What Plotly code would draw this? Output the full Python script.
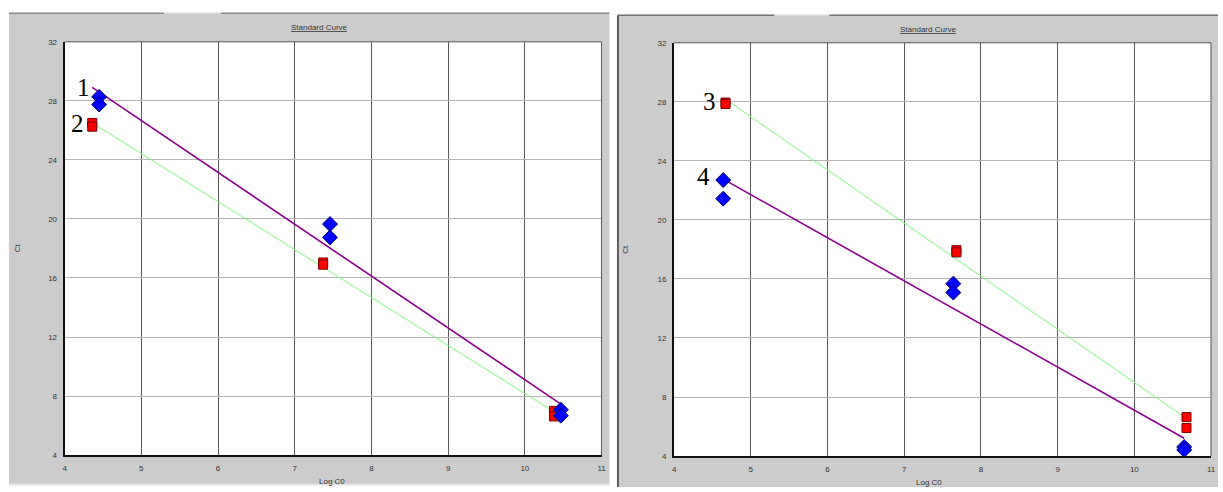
import numpy as np
import plotly.graph_objects as go

W, H = 1223, 492

# ---- data: Ct vs Log C0, two standard-curve runs ----
x_ticks = [4, 5, 6, 7, 8, 9, 10, 11]
ct_ticks = [4, 8, 12, 16, 20, 24, 28, 32]

left_blue_x = [4.45, 4.45, 7.46, 7.46, 10.47, 10.47]
left_blue_ct = [28.27, 27.75, 19.65, 18.75, 7.07, 6.67]
left_red_x = [4.36, 4.36, 7.37, 7.37, 10.38, 10.38]
left_red_ct = [26.5, 26.25, 17.05, 16.9, 7.0, 6.62]

right_red_x = [4.67, 4.67, 7.68, 7.68, 10.68, 10.68]
right_red_ct = [27.95, 27.85, 17.95, 17.8, 6.64, 5.9]
right_blue_x = [4.64, 4.64, 7.64, 7.64, 10.65, 10.65]
right_blue_ct = [22.7, 21.44, 15.68, 15.08, 4.62, 4.42]

series_labels = ["1", "2", "3", "4"]


def px(x):
    return x / W


def py(y):
    return 1 - y / H


fig = go.Figure()

BLUE = dict(symbol="diamond", size=11.5, color="#0000ff",
            line=dict(color="#00006a", width=1))
RED = dict(symbol="square", size=9, color="#ff0000",
           line=dict(color="#7a0000", width=1))
PURPLE = dict(color="#8b008b", width=1.6)
GREEN = dict(color="#7cfc7c", width=1)


def fit_line(xs, ys, x_lo, x_hi, line, xa, ya):
    slope, icpt = np.polyfit(xs, ys, 1)
    xl = np.array([x_lo, x_hi])
    fig.add_trace(go.Scatter(x=xl, y=slope * xl + icpt, mode="lines",
                             line=line, xaxis=xa, yaxis=ya,
                             showlegend=False, hoverinfo="skip"))


def points(xs, ys, marker, xa, ya):
    fig.add_trace(go.Scatter(x=xs, y=ys, mode="markers", marker=marker,
                             xaxis=xa, yaxis=ya, showlegend=False))


# left panel
lo = min(left_blue_x + left_red_x)
hi = max(left_blue_x + left_red_x)
fit_line(left_red_x, left_red_ct, lo, max(left_red_x), GREEN, "x", "y")
fit_line(left_blue_x, left_blue_ct, lo, hi, PURPLE, "x", "y")
points(left_red_x, left_red_ct, RED, "x", "y")
points(left_blue_x, left_blue_ct, BLUE, "x", "y")

# right panel
lo2 = min(right_blue_x + right_red_x)
fit_line(right_red_x, right_red_ct, min(right_red_x), max(right_red_x), GREEN, "x2", "y2")
fit_line(right_blue_x, right_blue_ct, lo2, max(right_blue_x), PURPLE, "x2", "y2")
points(right_red_x, right_red_ct, RED, "x2", "y2")
points(right_blue_x, right_blue_ct, BLUE, "x2", "y2")

tick_font = dict(family="Liberation Sans, Arial, sans-serif", size=8, color="#333")


def xaxis(dom, anchor):
    return dict(domain=dom, anchor=anchor, range=[4, 11], tickvals=x_ticks,
                showgrid=True, gridcolor="#5a5a5a", gridwidth=1,
                zeroline=False, showline=True, linecolor="#111", linewidth=2,
                ticks="outside", ticklen=4, tickcolor="rgba(0,0,0,0)",
                tickfont=tick_font, fixedrange=True)


def yaxis(dom, anchor):
    return dict(domain=dom, anchor=anchor, range=[4, 32], tickvals=ct_ticks,
                showgrid=True, gridcolor="#b4b4b4", gridwidth=1,
                zeroline=False, showline=True, linecolor="#111", linewidth=2,
                ticks="outside", ticklen=4, tickcolor="rgba(0,0,0,0)",
                tickfont=tick_font, fixedrange=True)


L = (63, 603, 38.5, 459.5)
R = (676, 1216, 39.5, 460.5)

fig.update_layout(
    width=W, height=H, margin=dict(l=0, r=0, t=0, b=0),
    paper_bgcolor="white", plot_bgcolor="white", showlegend=False,
    xaxis=xaxis([px(L[0]), px(L[1])], "y"),
    yaxis=yaxis([py(L[3]), py(L[2])], "x"),
    xaxis2=xaxis([px(R[0]), px(R[1])], "y2"),
    yaxis2=yaxis([py(R[3]), py(R[2])], "x2"),
)

shapes = []
# grey window panels
for x0, x1, y0, y1 in [(7, 611, 10, 490), (619, 1223, 12, 492)]:
    shapes.append(dict(type="rect", xref="paper", yref="paper", layer="below",
                       x0=px(x0), x1=px(x1), y0=py(y1), y1=py(y0),
                       fillcolor="#cccccc", line=dict(width=0)))
# white plotting areas on top of the grey panels
for xr, yr in [("x", "y"), ("x2", "y2")]:
    shapes.append(dict(type="rect", xref=f"{xr} domain", yref=f"{yr} domain",
                       layer="below", x0=0, x1=1, y0=0, y1=1,
                       fillcolor="white", line=dict(width=0)))
# window top edges with tab gaps
for x0, x1, y, c in [(7, 163, 9.5, "#8a8a8a"), (163, 220, 9.5, "#d8d8d8"),
                     (220, 611, 9.5, "#8a8a8a"),
                     (619, 777, 11.5, "#6f6f6f"), (777, 832, 11.5, "#d8d8d8"),
                     (832, 1223, 11.5, "#6f6f6f")]:
    shapes.append(dict(type="line", xref="paper", yref="paper", layer="below",
                       x0=px(x0), x1=px(x1), y0=py(y), y1=py(y),
                       line=dict(color=c, width=1.5)))
shapes.append(dict(type="line", xref="paper", yref="paper", layer="below",
                   x0=px(619.5), x1=px(619.5), y0=py(492), y1=py(12),
                   line=dict(color="#5e5e5e", width=2)))
shapes.append(dict(type="line", xref="paper", yref="paper", layer="below",
                   x0=px(7), x1=px(611), y0=py(489.5), y1=py(489.5),
                   line=dict(color="#e4e4e4", width=2)))
# top and right frame of each plot area
for xr, yr in [("x", "y"), ("x2", "y2")]:
    shapes.append(dict(type="line", xref=f"{xr} domain", yref=f"{yr} domain",
                       x0=0, x1=1, y0=1, y1=1, line=dict(color="#555", width=1)))
    shapes.append(dict(type="line", xref=f"{xr} domain", yref=f"{yr} domain",
                       x0=1, x1=1, y0=0, y1=1, line=dict(color="#555", width=1)))
fig.update_layout(shapes=shapes)

small = dict(family="Liberation Sans, Arial, sans-serif", size=8, color="#333")
serif = dict(family="Liberation Serif, Times New Roman, serif", size=25, color="black")

ann = []


def paper_text(text, cx, cy, **kw):
    ann.append(dict(text=text, x=px(cx), y=py(cy), xref="paper", yref="paper",
                    xanchor="center", yanchor="middle", showarrow=False,
                    font=small, **kw))


for cx, cy in [(319, 24), (932, 26)]:
    paper_text("<u>Standard Curve</u>", cx, cy)
for cx, cy in [(332, 486), (932, 487)]:
    paper_text("Log C0", cx, cy)
for cx, cy in [(16, 248), (627, 250)]:
    paper_text("Ct", cx, cy, textangle=-90)

# series numbers next to the first standard of each series
label_specs = [
    (series_labels[0], left_blue_x[0], left_blue_ct[0], "x", "y", -16, 9),
    (series_labels[1], left_red_x[0], left_red_ct[0], "x", "y", -15, -1),
    (series_labels[2], right_red_x[0], right_red_ct[0], "x2", "y2", -16, 1),
    (series_labels[3], right_blue_x[0], right_blue_ct[0], "x2", "y2", -20, 4),
]
for t, x, y, xr, yr, dx, dy in label_specs:
    ann.append(dict(text=t, x=x, y=y, xref=xr, yref=yr, xshift=dx, yshift=dy,
                    showarrow=False, font=serif))
fig.update_layout(annotations=ann)

fig.write_html("out.html")
